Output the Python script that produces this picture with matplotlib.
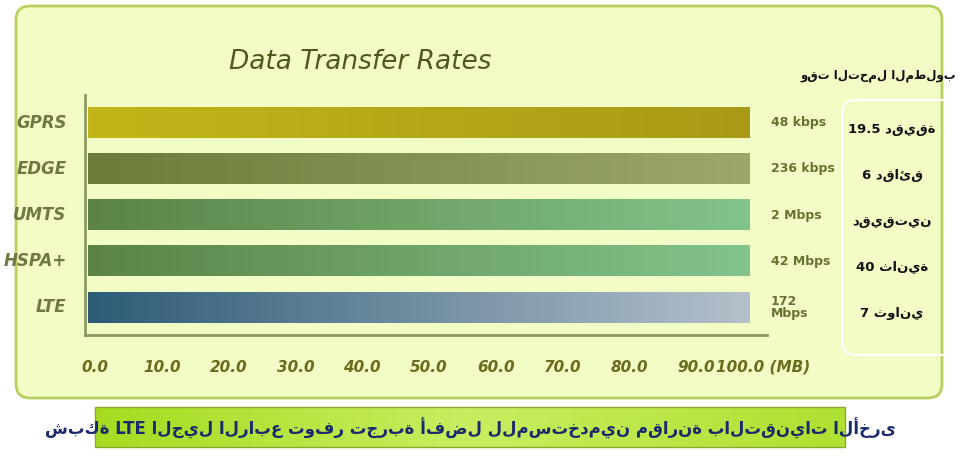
import numpy as np
import matplotlib.pyplot as plt
from matplotlib.patches import FancyBboxPatch
from matplotlib.colors import LinearSegmentedColormap

techs = ["GPRS", "EDGE", "UMTS", "HSPA+", "LTE"]
values = [91.5, 91.5, 91.5, 91.5, 91.5]
speeds = ["48 kbps", "236 kbps", "2 Mbps", "42 Mbps", "172\nMbps"]
times_ar = ["19.5 دقيقة", "6 دقائق", "دقيقتين", "40 ثانية", "7 ثواني"]
xticks = [0, 10, 20, 30, 40, 50, 60, 70, 80, 90, 100]
xlabels = ["0.0", "10.0", "20.0", "30.0", "40.0", "50.0", "60.0", "70.0", "80.0", "90.0", "100.0 (MB)"]
grads = [("#c2b61a", "#a89a16"), ("#6c7c3a", "#9ba86a"), ("#5c8446", "#82c48c"),
         ("#5c8446", "#82c48c"), ("#2e5c76", "#b4c0cc")]
header_ar = "وقت التحمل المطلوب"
banner_ar = "شبكة LTE الجيل الرابع توفر تجربة أفضل للمستخدمين مقارنة بالتقنيات الأخرى"

fig = plt.figure(figsize=(9.74, 4.71), dpi=100)
bg = fig.add_axes([0, 0, 1, 1])
bg.set_xlim(0, 974)
bg.set_ylim(471, 0)
bg.axis("off")
bg.add_patch(FancyBboxPatch((16, 6), 926, 392, boxstyle="round,pad=0,rounding_size=14",
                            fc="#f2fdc6", ec="#b6d060", lw=2))
bg.add_patch(FancyBboxPatch((842, 100), 130, 255, boxstyle="round,pad=0,rounding_size=14",
                            fc="none", ec="white", lw=1.5))
# banner
grad = np.linspace(0, 1, 200)[None, :]
cm = LinearSegmentedColormap.from_list("b", ["#a6dc20", "#c8ee60", "#b0e030"])
bg.imshow(grad, extent=(95, 845, 447, 407), cmap=cm, aspect="auto", zorder=1)
bg.add_patch(plt.Rectangle((95, 407), 750, 40, fc="none", ec="#8aa830", lw=1))
bg.text(470, 428, banner_ar, ha="center", va="center", fontsize=12,
        fontweight="bold", color="#1a2a6a")
bg.text(360, 62, "Data Transfer Rates", ha="center", va="center", fontsize=19,
        style="italic", color="#4c5a1c")
bg.text(878, 75, header_ar, ha="center", va="center", fontsize=8.5,
        fontweight="bold", color="#111111")

ax = fig.add_axes([85 / 974, 1 - 335 / 471, 750 / 974, 240 / 471])
ax.set_xlim(-1.4, 103.5)
ax.set_ylim(4.6, -0.6)
ax.patch.set_alpha(0)
for i, (t, v) in enumerate(zip(techs, values)):
    c = LinearSegmentedColormap.from_list(t, list(grads[i]))
    ax.imshow(grad, extent=(-1.0, v, i + 0.33, i - 0.33), cmap=c, aspect="auto", zorder=2)
    ax.text(-4, i, t, ha="right", va="center", fontsize=12, fontweight="bold",
            style="italic", color="#6e7840")
    ax.text(94.5, i, speeds[i], ha="left", va="center", fontsize=9, fontweight="bold",
            color="#6a7030", linespacing=0.9)
    bg.text(892, 129 + i * 46, times_ar[i], ha="center", va="center", fontsize=9.5,
            fontweight="bold", color="#111111")
ax.set_yticks([])
ax.set_xticks(np.array(xticks) * 0.934)
ax.set_xticklabels(xlabels, fontsize=11, fontweight="bold", style="italic", color="#6b6b1e")
ax.tick_params(axis="x", length=0, pad=18)
ax.spines["top"].set_visible(False)
ax.spines["right"].set_visible(False)
ax.spines["left"].set_color("#8a9a60")
ax.spines["bottom"].set_color("#8a9a60")
ax.spines["left"].set_linewidth(2)
ax.spines["bottom"].set_linewidth(2)
ax.spines["bottom"].set_bounds(-1.4, 94)
fig.savefig("out.png", dpi=100)
